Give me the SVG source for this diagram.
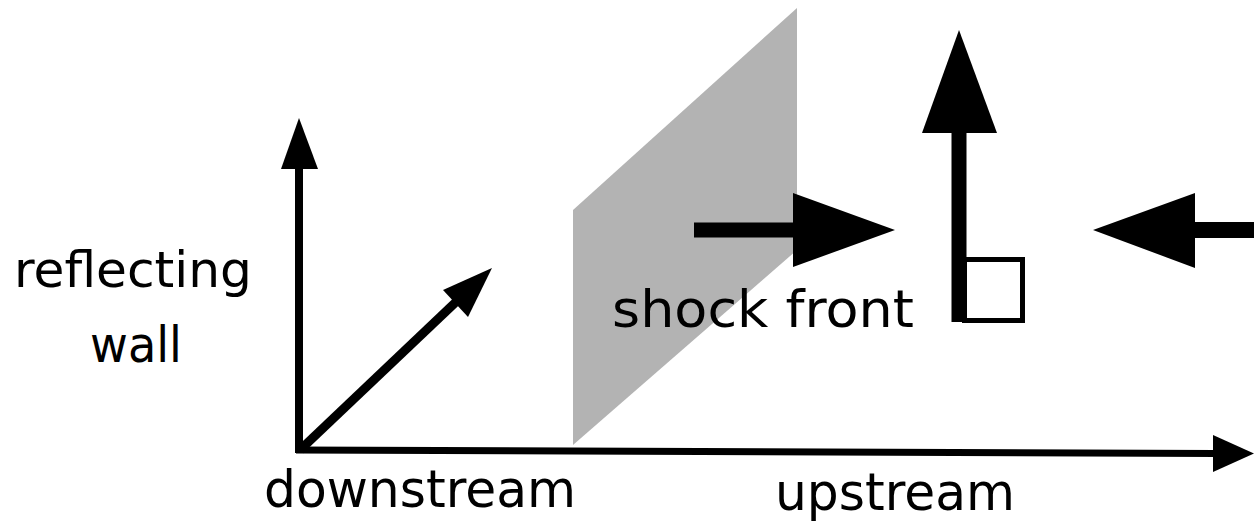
<svg xmlns="http://www.w3.org/2000/svg" width="1254" height="523" viewBox="0 0 1254 523">
  <style>
    .lbl { font-family: "DejaVu Sans", "Noto Sans CJK JP", sans-serif; font-size: 52px; fill: #000; }
    .small { font-size: 49px; }
    .shaft { stroke: #000; stroke-linecap: butt; fill: none; }
    .head { fill: #000; stroke: none; }
  </style>
  <rect width="1254" height="523" fill="#fff"/>

  <!-- shock front plane -->
  <g id="shock-plane">
    <polygon points="573,210 797,8 797,250 573,445" fill="#b3b3b3"/>
  </g>

  <!-- coordinate axes and flow arrows -->
  <g id="connectors">
    <!-- vertical axis -->
    <line class="shaft" x1="299" y1="453" x2="299" y2="165" stroke-width="8"/>
    <polygon class="head" points="281,169 299,118 318,169"/>
    <!-- horizontal axis -->
    <line class="shaft" x1="296" y1="450" x2="1216" y2="453.5" stroke-width="7"/>
    <polygon class="head" points="1213,435 1254,453.5 1213,472"/>
    <!-- oblique axis -->
    <line class="shaft" x1="300" y1="450" x2="458" y2="300" stroke-width="9"/>
    <polygon class="head" points="443,290 492,268 468,317"/>
    <!-- downstream flow -->
    <line class="shaft" x1="694" y1="230" x2="796" y2="230" stroke-width="15"/>
    <polygon class="head" points="793,193 895,230 793,267"/>
    <!-- upstream flow -->
    <line class="shaft" x1="1192" y1="230" x2="1254" y2="230" stroke-width="16"/>
    <polygon class="head" points="1195,193 1093,230 1195,268"/>
    <!-- normal vector -->
    <line class="shaft" x1="959" y1="322" x2="959" y2="130" stroke-width="15"/>
    <polygon class="head" points="922,133 959,30 997,133"/>
  </g>

  <!-- right-angle marker -->
  <g id="right-angle">
    <rect x="964.5" y="259.5" width="58" height="61" fill="none" stroke="#000" stroke-width="5"/>
  </g>

  <!-- labels -->
  <g id="label-wall">
    <text class="lbl small" x="14" y="287" textLength="238" lengthAdjust="spacingAndGlyphs">reflecting</text>
    <text class="lbl small" x="90" y="362" textLength="92" lengthAdjust="spacingAndGlyphs">wall</text>
  </g>
  <g id="label-shock">
    <text class="lbl" x="612" y="327" textLength="302" lengthAdjust="spacingAndGlyphs">shock front</text>
  </g>
  <g id="label-downstream">
    <text class="lbl" x="264" y="507" textLength="312" lengthAdjust="spacingAndGlyphs">downstream</text>
  </g>
  <g id="label-upstream">
    <text class="lbl" x="775" y="510" textLength="240" lengthAdjust="spacingAndGlyphs">upstream</text>
  </g>
</svg>
